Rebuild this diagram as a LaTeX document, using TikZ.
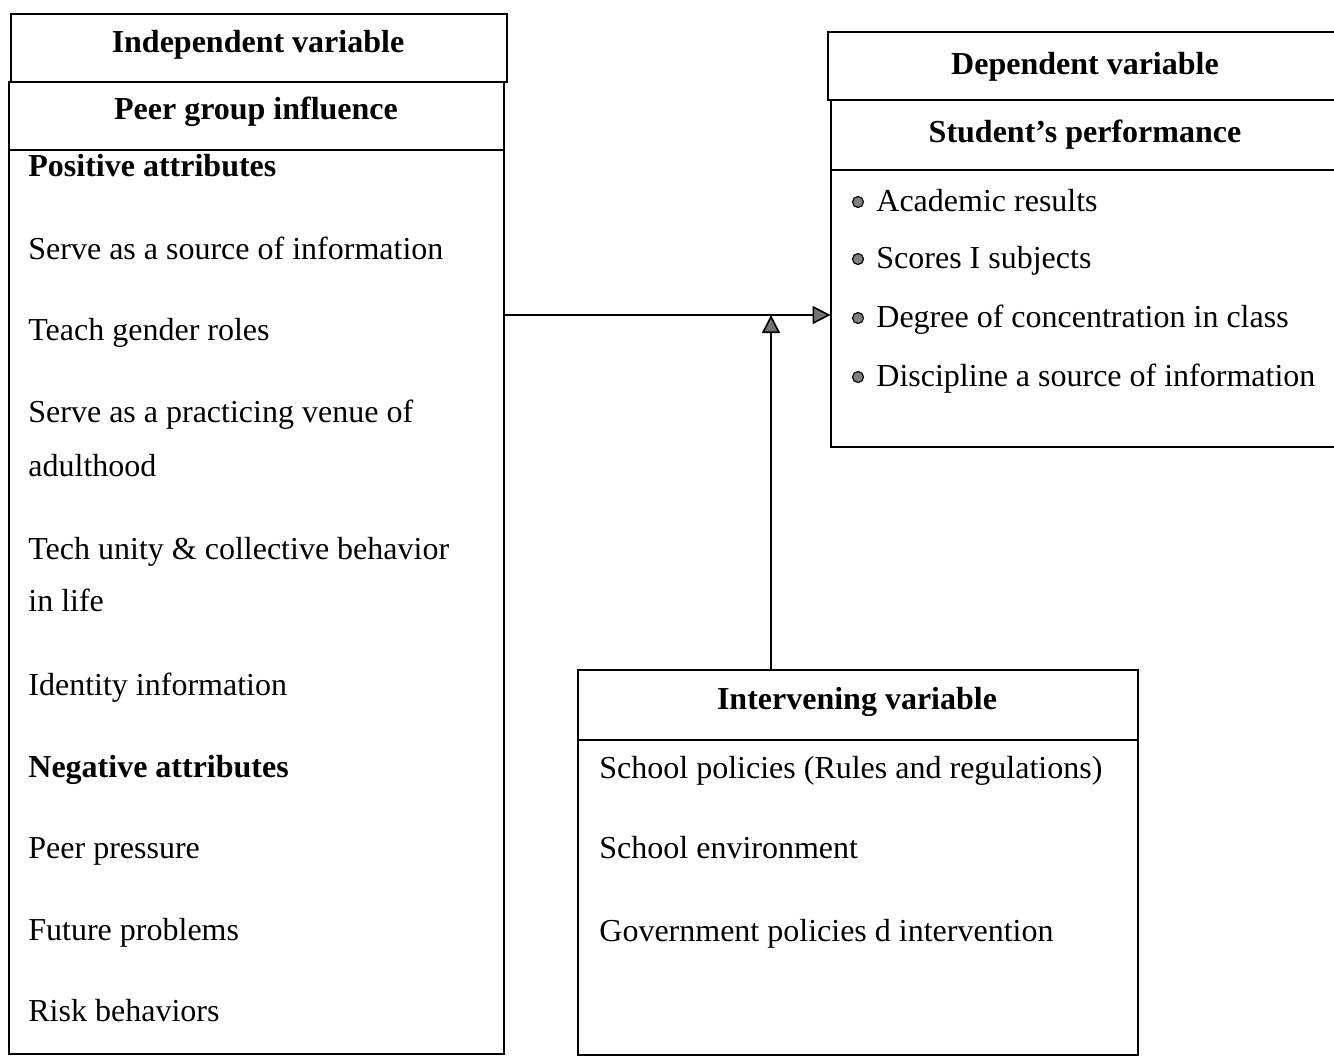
\documentclass[tikz,border=0pt]{standalone}
\usepackage{fontspec}
\setmainfont{Liberation Serif}
\usetikzlibrary{arrows.meta,fit}
\begin{document}
\begin{tikzpicture}[x=0.5pt,y=-0.5pt,
 box/.style={draw,line width=1pt,inner sep=0pt},
 rule/.style={line width=1pt},
 txt/.style={anchor=base west,inner sep=0pt,font=\fontsize{16}{19}\selectfont},
 btxt/.style={anchor=base west,inner sep=0pt,font=\fontsize{16}{19}\selectfont\bfseries},
 hdr/.style={anchor=base,inner sep=0pt,font=\fontsize{16}{19}\selectfont\bfseries},
 arr/.style={line width=0.8pt,-{Triangle[length=9pt,width=9pt,fill=black!55]}},
 bul/.style={circle,draw,line width=0.6pt,fill=black!50,minimum size=5.5pt,inner sep=0pt}]
\useasboundingbox (0,0) rectangle (1334,1057);
% left boxes
\node[box,fit={(11,14)(507,82)}] (indep) {};
\node[box,fit={(9,82)(504,1054)}] (infl) {};
\draw[rule] (9,150) -- (504,150);
\node[hdr] (h1) at (258,52) {Independent variable};
\node[hdr] (h2) at (256,119) {Peer group influence};
\node[btxt] (l1) at (28,176) {Positive attributes};
\node[txt] (l2) at (28,259) {Serve as a source of information};
\node[txt] (l3) at (28,340) {Teach gender roles};
\node[txt] (l4) at (28,422) {Serve as a practicing venue of};
\node[txt] (l5) at (28,476) {adulthood};
\node[txt] (l6) at (28,559) {Tech unity \& collective behavior};
\node[txt] (l7) at (28,611) {in life};
\node[txt] (l8) at (28,695) {Identity information};
\node[btxt] (l9) at (28,777) {Negative attributes};
\node[txt] (l10) at (28,858) {Peer pressure};
\node[txt] (l11) at (28,940) {Future problems};
\node[txt] (l12) at (28,1021) {Risk behaviors};
% right boxes (open on the right)
\node[inner sep=0pt,fit={(831,100)(1334,447)}] (dep) {};
\draw[rule] (1334,32) -| (828,100) -- (1334,100);
\draw[rule] (1334,100) -| (831,447) -- (1334,447);
\draw[rule] (831,170) -- (1334,170);
\node[hdr] (h3) at (1085,74) {Dependent variable};
\node[hdr] (h4) at (1085,142) {Student’s performance};
\node[bul] (b1) at (858,202) {};
\node[bul] (b2) at (858,259) {};
\node[bul] (b3) at (858,318) {};
\node[bul] (b4) at (858,377) {};
\node[txt] (r1) at (876,211) {Academic results};
\node[txt] (r2) at (876,268) {Scores I subjects};
\node[txt] (r3) at (876,327) {Degree of concentration in class};
\node[txt] (r4) at (876,386) {Discipline a source of information};
% intervening box
\node[box,fit={(578,670)(1138,1055)}] (interv) {};
\draw[rule] (578,740) -- (1138,740);
\node[hdr] (h5) at (857,709) {Intervening variable};
\node[txt] (i1) at (599,778) {School policies (Rules and regulations)};
\node[txt] (i2) at (599,858) {School environment};
\node[txt] (i3) at (599,941) {Government policies d intervention};
% connectors
\coordinate (j) at (771,315);
\draw[arr] (infl.east |- j) -- (dep.west |- j);
\draw[arr] (interv.north -| j) -- (j);
\end{tikzpicture}
\end{document}
